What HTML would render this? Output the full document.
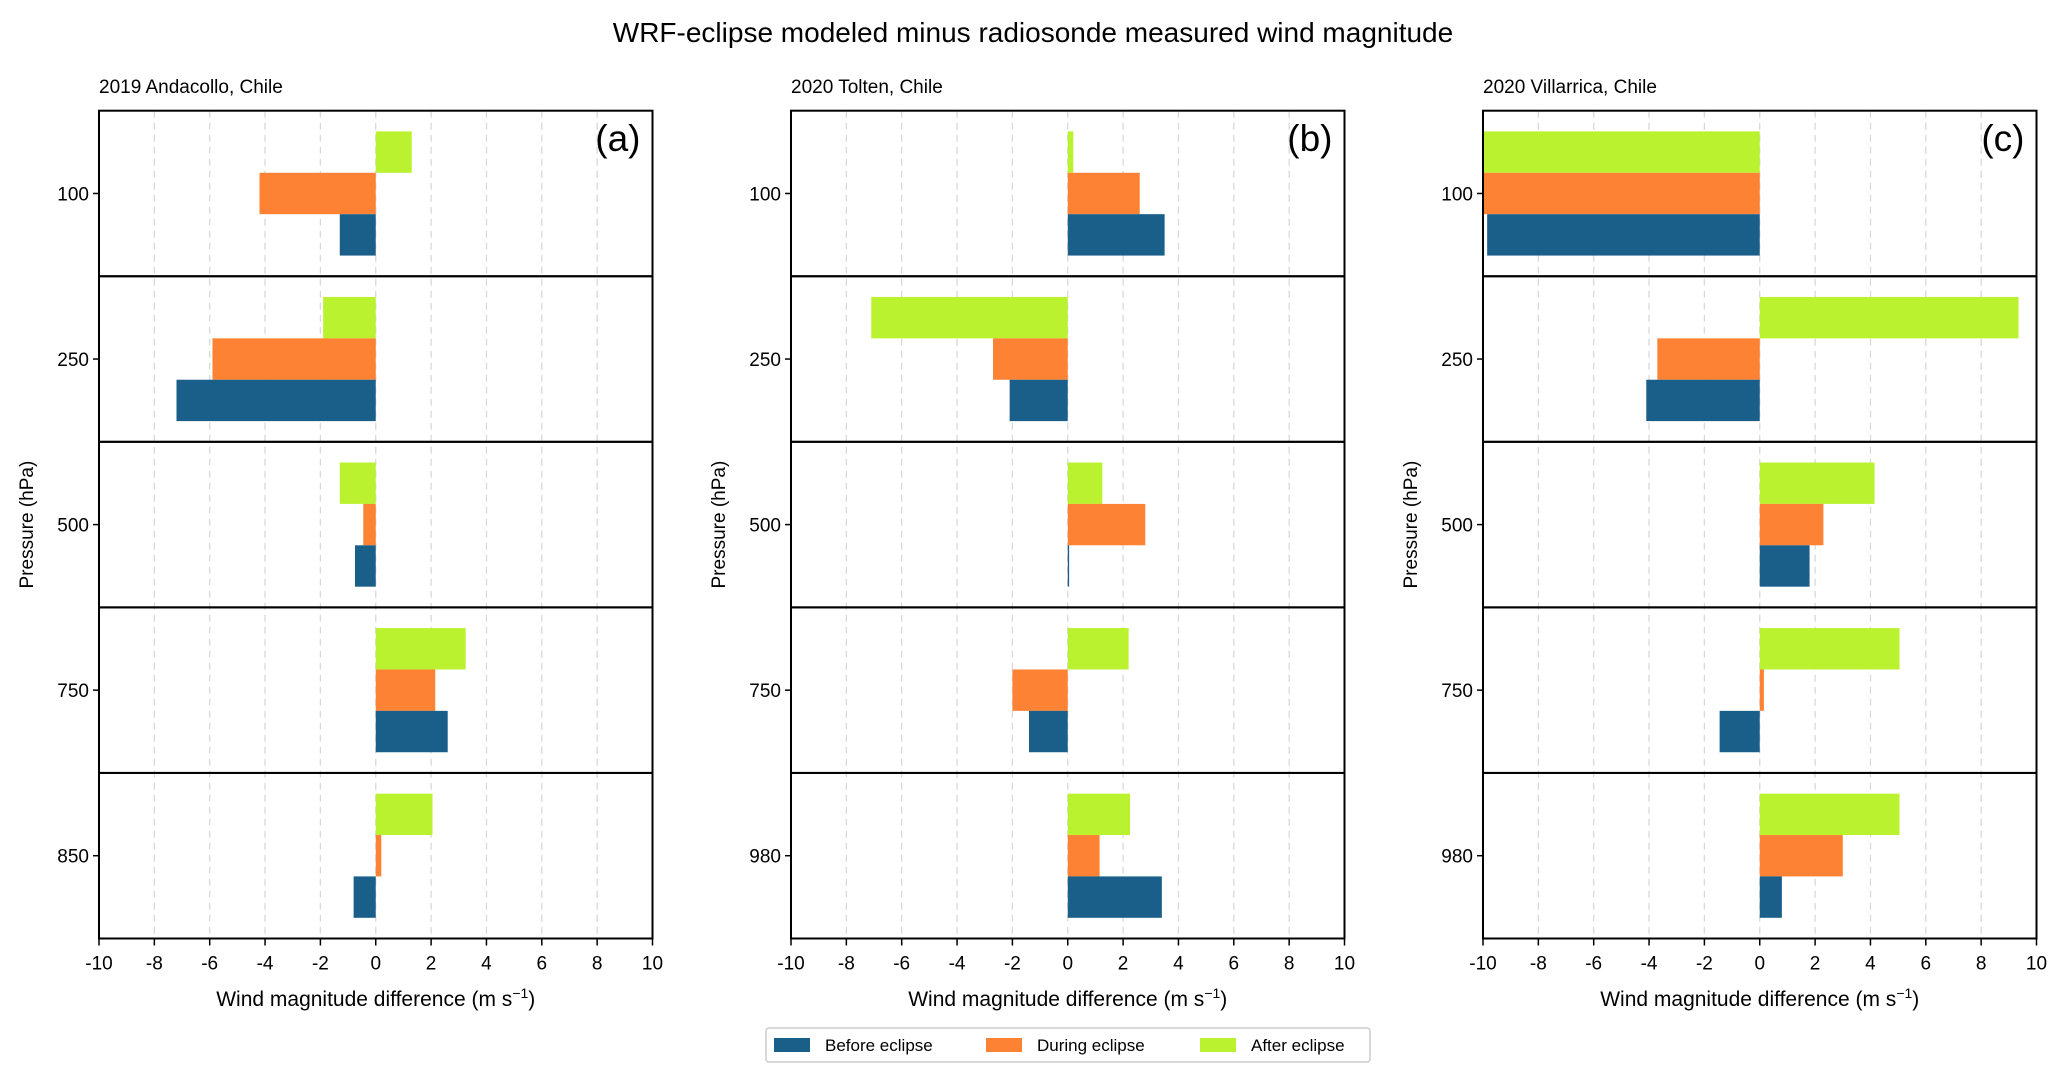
<!DOCTYPE html>
<html><head><meta charset="utf-8"><style>
body{margin:0;background:#fff;}
svg{display:block;font-family:"Liberation Sans","DejaVu Sans",sans-serif;}
</style></head><body>
<svg id="fig" width="2067" height="1084" viewBox="0 0 2067 1084">
<text x="1033" y="42" font-size="28" text-anchor="middle">WRF-eclipse modeled minus radiosonde measured wind magnitude</text>
</svg>
<script>
const levelsA=["100","250","500","750","850"];
const levelsB=["100","250","500","750","980"];
const levelsC=["100","250","500","750","980"];
const beforeA=[-1.3,-7.2,-0.75,2.6,-0.8];
const duringA=[-4.2,-5.9,-0.45,2.15,0.2];
const afterA=[1.3,-1.9,-1.3,3.25,2.05];
const beforeB=[3.5,-2.1,0.05,-1.4,3.4];
const duringB=[2.6,-2.7,2.8,-2.0,1.15];
const afterB=[0.2,-7.1,1.25,2.2,2.25];
const beforeC=[-9.85,-4.1,1.8,-1.45,0.8];
const duringC=[-10,-3.7,2.3,0.15,3.0];
const afterC=[-10,9.35,4.15,5.05,5.05];
const xTicks=[-10,-8,-6,-4,-2,0,2,4,6,8,10];
const titles=["2019 Andacollo, Chile","2020 Tolten, Chile","2020 Villarrica, Chile"];
const letters=["(a)","(b)","(c)"];
const NS="http://www.w3.org/2000/svg";
const svg=document.getElementById('fig');
const colors={before:"#1a5f8a",during:"#fe8233",after:"#baf22f"};
function mk(tag,attrs,parent){const e=document.createElementNS(NS,tag);for(const k in attrs)e.setAttribute(k,attrs[k]);(parent||svg).appendChild(e);return e;}
const panels=[
 {left:99,levels:levelsA,before:beforeA,during:duringA,after:afterA},
 {left:791,levels:levelsB,before:beforeB,during:duringB,after:afterB},
 {left:1483,levels:levelsC,before:beforeC,during:duringC,after:afterC}];
const W=553.5,top0=110.7,bottom=938.5,nSub=5,subH=(bottom-top0)/nSub;
panels.forEach((p,pi)=>{
 const g=mk('g',{});
 
 
 const xs=v=>p.left+(v+10)/20*W;
 xTicks.forEach(t=>{if(t===-10||t===10)return;
  const l=mk('line',{x1:xs(t),x2:xs(t),y1:top0,y2:bottom,stroke:"#d9d9d9","stroke-width":1.3,"stroke-dasharray":"7,5"},g);
  
  
 });
 for(let i=0;i<nSub;i++){
  const st=top0+i*subH;
  const yv=o=>st+subH/2-(o)*subH;
  const series=[['after',p.after[i],0.25],['during',p.during[i],0],['before',p.before[i],-0.25]];
  series.forEach(([k,v,off])=>{
   const x0=xs(Math.min(0,v)),x1=xs(Math.max(0,v));
   const r=mk('rect',{x:x0,y:yv(off+0.125),width:Math.max(x1-x0,0.8),height:0.25*subH,fill:colors[k]},g);
   
   
  });
  const fr=mk('rect',{x:p.left,y:st,width:W,height:subH,fill:"none",stroke:"#000","stroke-width":2},g);
  
  
  const tk=mk('line',{x1:p.left-6,x2:p.left,y1:st+subH/2,y2:st+subH/2,stroke:"#000","stroke-width":1.5},g);
  
  
  const lb=mk('text',{x:p.left-10,y:st+subH/2+7,"font-size":19,"text-anchor":"end"},g);
  lb.textContent=p.levels[i];
  
  
 }
 xTicks.forEach(t=>{
  const l=mk('line',{x1:xs(t),x2:xs(t),y1:bottom,y2:bottom+7,stroke:"#000","stroke-width":1.5},g);
  
  
  const tx=mk('text',{x:xs(t),y:bottom+31,"font-size":19,"text-anchor":"middle"},g);
  tx.textContent=t;
  
  
 });
 const xl=mk('text',{x:p.left+W/2,y:1006,"font-size":21,"text-anchor":"middle"},g);
 xl.innerHTML='Wind magnitude difference (m s<tspan dy="-8" font-size="14">−1</tspan><tspan dy="8">)</tspan>';
 
 
 const yl=mk('text',{x:0,y:0,"font-size":19,"text-anchor":"middle",transform:`translate(${p.left-66},${(top0+bottom)/2}) rotate(-90)`},g);
 yl.textContent='Pressure (hPa)';
 
 
 const ti=mk('text',{x:p.left,y:93,"font-size":19},g);
 ti.textContent=titles[pi];
 
 
 const le=mk('text',{x:p.left+W-12,y:151,"font-size":37,"text-anchor":"end"},g);
 le.textContent=letters[pi];
 
 
});
const lg=mk('g',{});


const lbox=mk('rect',{x:766,y:1028,width:604,height:34,rx:3,fill:"#fff",stroke:"#ccc","stroke-width":1.5},lg);


[["before","Before eclipse",774,825],["during","During eclipse",986,1037],["after","After eclipse",1200,1251]].forEach(([k,t,px,tx])=>{
 const r=mk('rect',{x:px,y:1038,width:36,height:14,fill:colors[k]},lg);
 
 
 const te=mk('text',{x:tx,y:1051,"font-size":17},lg);
 te.textContent=t;
 
 
});
</script>
</body></html>
